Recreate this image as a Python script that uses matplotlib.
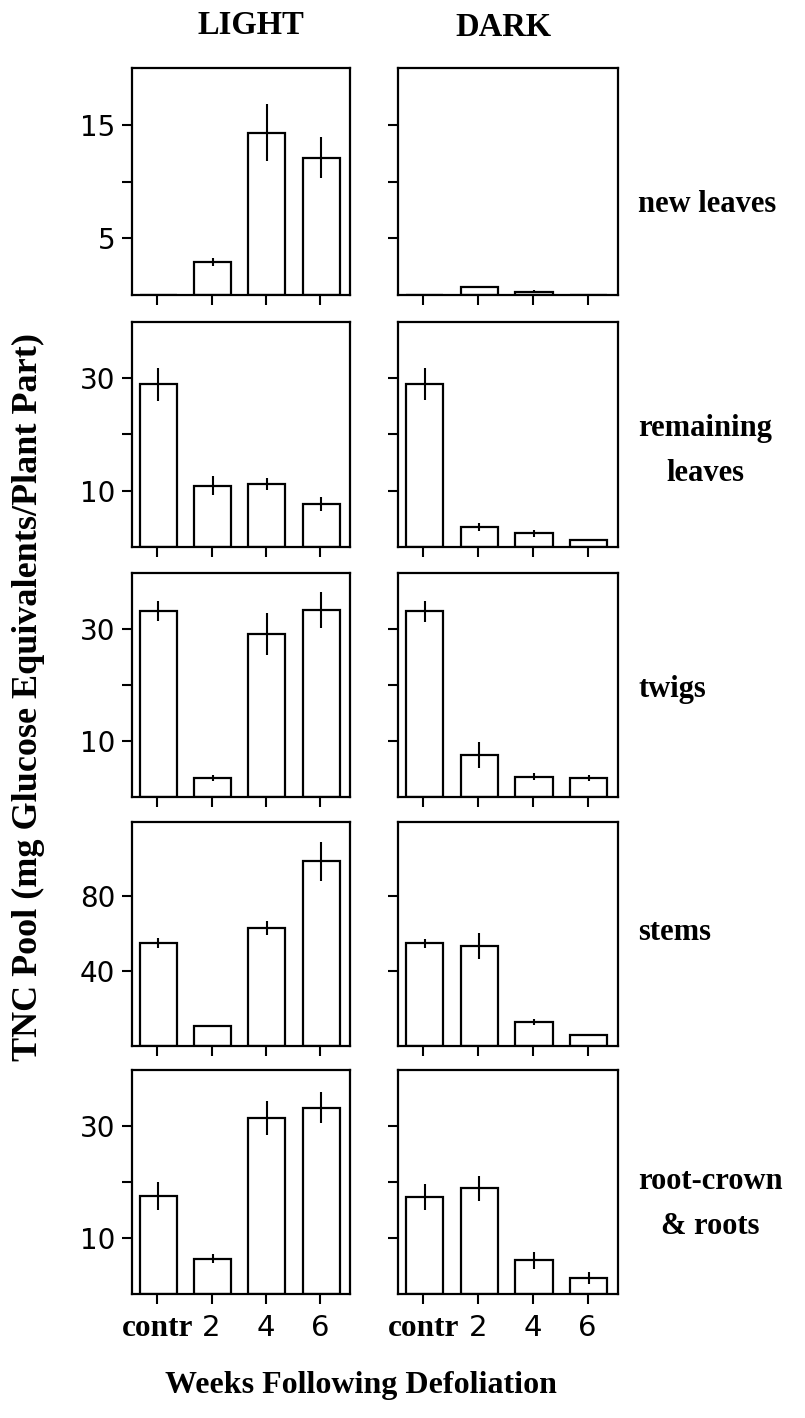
import matplotlib
matplotlib.use("Agg")
import matplotlib.pyplot as plt
import matplotlib.transforms as mtransforms
import numpy as np

# ---- data ----
weeks = ["contr", "2", "4", "6"]
parts = ["new leaves", "remaining\nleaves", "twigs", "stems", "root-crown\n& roots"]

new_light = [0.0, 2.9, 14.3, 12.1]
new_light_err = [0.0, 0.35, 2.5, 1.8]
new_dark = [0.0, 0.7, 0.3, 0.0]
new_dark_err = [0.0, 0.1, 0.1, 0.0]

rem_light = [28.9, 10.9, 11.2, 7.7]
rem_light_err = [2.9, 1.7, 1.1, 1.2]
rem_dark = [29.0, 3.6, 2.5, 1.3]
rem_dark_err = [2.8, 0.7, 0.6, 0.0]

twig_light = [33.2, 3.4, 29.2, 33.4]
twig_light_err = [1.8, 0.5, 3.7, 3.2]
twig_dark = [33.2, 7.5, 3.7, 3.4]
twig_dark_err = [1.9, 2.3, 0.6, 0.5]

stem_light = [55.1, 10.8, 63.1, 98.8]
stem_light_err = [2.5, 0.5, 3.8, 10.5]
stem_dark = [55.0, 53.7, 12.6, 5.9]
stem_dark_err = [2.4, 7.0, 1.6, 0.0]

root_light = [17.5, 6.3, 31.4, 33.3]
root_light_err = [2.5, 0.8, 3.0, 2.8]
root_dark = [17.4, 18.9, 6.1, 2.9]
root_dark_err = [2.3, 2.2, 1.5, 1.1]

ylims = [20, 40, 40, 120, 40]
yticks = [[5, 10, 15], [10, 20, 30], [10, 20, 30], [40, 80], [10, 20, 30]]
yticklabels = [["5", "", "15"], ["10", "", "30"], ["10", "", "30"], ["40", "80"], ["10", "", "30"]]

light_vals = [new_light, rem_light, twig_light, stem_light, root_light]
light_errs = [new_light_err, rem_light_err, twig_light_err, stem_light_err, root_light_err]
dark_vals = [new_dark, rem_dark, twig_dark, stem_dark, root_dark]
dark_errs = [new_dark_err, rem_dark_err, twig_dark_err, stem_dark_err, root_dark_err]

# ---- layout ----
W, H = 805, 1418
fig = plt.figure(figsize=(W / 100, H / 100), dpi=100)

rows_px = [(68, 295), (321.7, 547.3), (573.3, 797.3), (821.7, 1046), (1070, 1294.3)]
cols_px = [(131.7, 350), (397.7, 617.7)]

serif = "Liberation Serif"
sans = "DejaVu Sans"
x = np.arange(len(weeks))

for r in range(5):
    top, bot = rows_px[r]
    for c in range(2):
        left, right = cols_px[c]
        ax = fig.add_axes([left / W, 1 - bot / H, (right - left) / W, (bot - top) / H])
        vals = light_vals[r] if c == 0 else dark_vals[r]
        errs = light_errs[r] if c == 0 else dark_errs[r]
        ax.bar(x + 0.02, vals, width=0.68, color="white", edgecolor="black", linewidth=1.6, zorder=2)
        errs_arr = np.array(errs)
        vals_arr = np.array(vals)
        mask = errs_arr > 0
        ax.errorbar(x[mask] + 0.02, vals_arr[mask], yerr=errs_arr[mask], fmt="none",
                    ecolor="black", elinewidth=1.5, capsize=0, zorder=3)
        ax.set_xlim(-0.47, 3.55)
        ax.set_ylim(0, ylims[r])
        ax.set_yticks(yticks[r])
        if c == 0:
            ax.set_yticklabels(yticklabels[r], fontsize=20, family=sans)
        else:
            ax.set_yticklabels([])
        ax.set_xticks(x)
        if r == 4:
            ax.set_xticklabels(weeks)
            for i, lab in enumerate(ax.get_xticklabels()):
                if i == 0:
                    lab.set_fontfamily(serif)
                    lab.set_fontweight("bold")
                    lab.set_fontsize(22.5)
                    if c == 0:
                        lab.set_transform(lab.get_transform() +
                                          mtransforms.ScaledTranslation(-10 / 100, 0, fig.dpi_scale_trans))
                else:
                    lab.set_fontfamily(sans)
                    lab.set_fontsize(21)
        else:
            ax.set_xticklabels([])
        ax.tick_params(direction="out", length=7, width=1.5, pad=5)
        ax.tick_params(axis="x", pad=7)
        for s in ax.spines.values():
            s.set_linewidth(1.6)

# column titles
fig.text(251 / W, 1 - 25 / H, "LIGHT", family=serif, weight="bold", fontsize=23.5,
         ha="center", va="center")
fig.text(503 / W, 1 - 28 / H, "DARK", family=serif, weight="bold", fontsize=23.5,
         ha="center", va="center")

# row labels
row_label_y = [205, 451, 690, 932, 1204]
for lbl, yy in zip(parts, row_label_y):
    fig.text(638 / W, 1 - yy / H, lbl, family=serif, weight="bold", fontsize=22,
             ha="left", va="center", multialignment="center", linespacing=1.75)

# axis labels
fig.text(28 / W, 1 - 697 / H, "TNC Pool (mg Glucose Equivalents/Plant Part)", family=serif,
         weight="bold", fontsize=26, rotation=90, ha="center", va="center")
fig.text(361 / W, 1 - 1385 / H, "Weeks Following Defoliation", family=serif, weight="bold",
         fontsize=23, ha="center", va="center")

fig.savefig("out.png", dpi=100, facecolor="white")
